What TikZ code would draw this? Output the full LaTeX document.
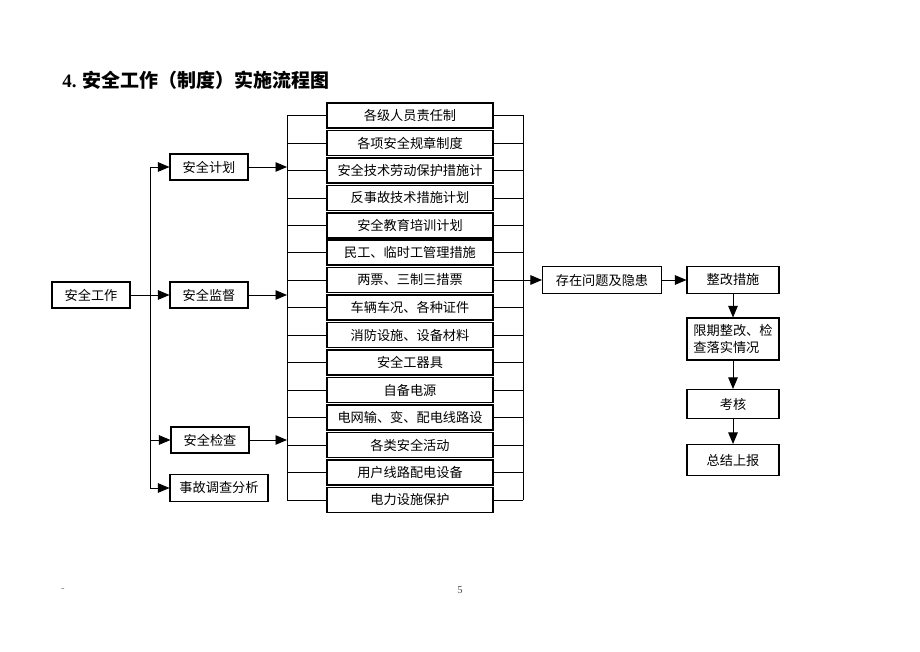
\documentclass[tikz,border=0pt]{standalone}
\usepackage{fontspec}
\setmainfont{Liberation Serif}
\newfontfamily\cjk{Noto Sans CJK SC}
\usepackage{tikz}
\usetikzlibrary{arrows.meta,calc}

\tikzset{
  box/.style={draw, line width=0.6pt, minimum width=1.56cm, minimum height=0.52cm,
              inner sep=1pt, font=\cjk\fontsize{7.5}{9.5}\selectfont},
  item/.style={box, minimum width=3.32cm, minimum height=0.5cm},
  arr/.style={-{Triangle[length=2.3mm,width=1.9mm]}, line width=0.5pt},
  ln/.style={line width=0.5pt}
}

\begin{document}
\begin{tikzpicture}

\useasboundingbox (0,0) rectangle (18.4,13.02);

% Title
\node[anchor=west, inner sep=0pt] (title) at (1.24, 11.42)
  {\fontsize{10.8}{13}\selectfont\textbf{4.} {\cjk\bfseries 安全工作（制度）实施流程图}};

% Left column
\node[box] (work) at (1.82, 7.12) {安全工作};
\node[box] (plan) at (4.18, 9.68) {安全计划};
\node[box] (superv) at (4.18, 7.12) {安全监督};
\node[box] (check) at (4.20, 4.22) {安全检查};
\node[box, minimum width=1.96cm, minimum height=0.54cm] (accid) at (4.38, 3.26) {事故调查分析};

\coordinate (ltop) at (3.0, 9.68);
\coordinate (lbot) at (3.0, 3.26);
\draw[ln] (ltop) -- (lbot);
\draw[arr] (ltop) -- (plan.west);
\draw[arr] (work.east) -- (superv.west);
\draw[arr] (check.west -| ltop) -- (check.west);
\draw[arr] (lbot) -- (accid.west);

% Middle column
\node[item] (m1) at (8.2, 10.71) {各级人员责任制};
\node[item] (m2) at (8.2, 10.16) {各项安全规章制度};
\node[item] (m3) at (8.2, 9.61) {安全技术劳动保护措施计};
\node[item] (m4) at (8.2, 9.06) {反事故技术措施计划};
\node[item] (m5) at (8.2, 8.51) {安全教育培训计划};
\node[item] (m6) at (8.2, 7.97) {民工、临时工管理措施};
\node[item] (m7) at (8.2, 7.42) {两票、三制三措票};
\node[item] (m8) at (8.2, 6.87) {车辆车况、各种证件};
\node[item] (m9) at (8.2, 6.32) {消防设施、设备材料};
\node[item] (m10) at (8.2, 5.77) {安全工器具};
\node[item] (m11) at (8.2, 5.22) {自备电源};
\node[item] (m12) at (8.2, 4.67) {电网输、变、配电线路设};
\node[item] (m13) at (8.2, 4.12) {各类安全活动};
\node[item] (m14) at (8.2, 3.57) {用户线路配电设备};
\node[item] (m15) at (8.2, 3.02) {电力设施保护};

% brackets
\coordinate (bl) at (5.74, 0);
\coordinate (br) at (10.46, 0);
\draw[ln] (m1.west -| bl) -- (m15.west -| bl);
\draw[ln] (m1.east -| br) -- (m15.east -| br);
\foreach \i in {1,...,15} {
  \draw[ln] (m\i.west -| bl) -- (m\i.west);
  \draw[ln] (m\i.east) -- (m\i.east -| br);
}
\draw[arr] (plan.east) -- (plan.east -| bl);
\draw[arr] (superv.east) -- (superv.east -| bl);
\draw[arr] (check.east) -- (check.east -| bl);

% Right column
\node[box, minimum width=2.38cm, minimum height=0.54cm] (issue) at (12.04, 7.42) {存在问题及隐患};
\node[box, minimum width=1.84cm, minimum height=0.54cm] (fix) at (14.66, 7.42) {整改措施};
\node[box, minimum width=1.84cm, minimum height=0.84cm, align=left] (limit) at (14.66, 6.24) {限期整改、检\\查落实情况};
\node[box, minimum width=1.84cm, minimum height=0.58cm] (assess) at (14.66, 4.94) {考核};
\node[box, minimum width=1.84cm, minimum height=0.62cm] (report) at (14.66, 3.82) {总结上报};

\draw[arr] (m7.east -| br) -- (issue.west);
\draw[arr] (issue.east) -- (fix.west);
\draw[arr] (fix.south) -- (limit.north);
\draw[arr] (limit.south) -- (assess.north);
\draw[arr] (assess.south) -- (report.north);

% Footer
\node[font=\fontsize{6}{7}\selectfont, text=gray] (dash) at (1.26, 1.22) {-};
\node[font=\fontsize{6}{7}\selectfont, text=black!70] (page) at (9.2, 1.22) {5};

\end{tikzpicture}
\end{document}
